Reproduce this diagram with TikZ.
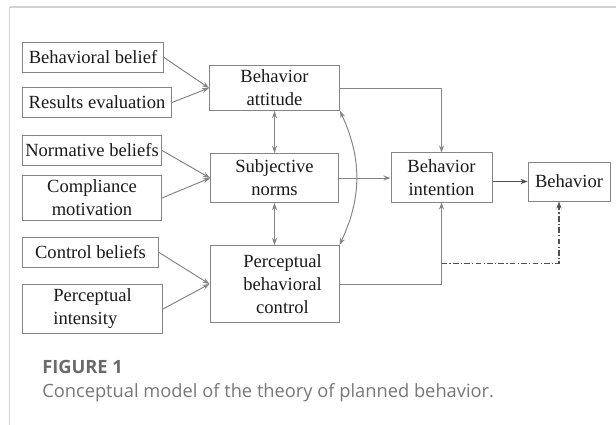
\documentclass[tikz,border=0pt]{standalone}
\usepackage{fontspec}
\setmainfont{Liberation Serif}
\newfontfamily\capfont{Open Sans}
\usepackage{xcolor}
\usetikzlibrary{arrows.meta,positioning,calc}
\definecolor{tpInk}{HTML}{1A1A1A}
\definecolor{tpLine}{HTML}{858585}
\definecolor{tpDark}{HTML}{505050}
\definecolor{tpFrame}{HTML}{D2D2D2}
\definecolor{tpFig}{HTML}{6A6A6A}
\definecolor{tpCap}{HTML}{777777}
\tikzset{
  cbox/.style={rectangle,draw=tpLine,line width=0.7pt,
    inner sep=0pt,align=center,text=tpInk,
    font=\fontsize{13.2}{16.3}\selectfont},
  capbox/.style={anchor=base west,inner sep=0pt,
    font=\capfont\fontsize{13}{15}\selectfont},
  arr/.style={-{Stealth[length=5pt,width=3.6pt]},line width=0.7pt,color=tpLine},
  arrb/.style={{Stealth[length=5pt,width=3.6pt]}-{Stealth[length=5pt,width=3.6pt]},
    line width=0.7pt,color=tpLine},
  arrk/.style={-{Stealth[length=5pt,width=3.8pt]},line width=0.9pt,color=tpDark},
  arrdd/.style={-{Stealth[length=5pt,width=3.6pt]},line width=0.8pt,color=tpDark,
    dash pattern=on 4pt off 1.6pt on 0.9pt off 1.6pt},
}

\begin{document}
\begin{tikzpicture}[x=0.025cm,y=-0.025cm]

  \useasboundingbox (0,0) rectangle (616,425);
  \draw[tpFrame,line width=0.8pt] (9.5,7) -- (616,7);
  \draw[tpFrame,line width=0.8pt] (9.5,7) -- (9.5,425);

  % left column: antecedent beliefs
  \node[cbox,minimum width=3.525cm,minimum height=0.75cm,anchor=north west] (bb)
    at (22,42) {Behavioral belief};
  \node[cbox,minimum width=3.725cm,minimum height=0.75cm,
    below right=0.35cm and 0cm of bb.south west] (re) {Results evaluation};
  \node[cbox,minimum width=3.475cm,minimum height=0.75cm,
    below right=0.425cm and 0cm of re.south west] (nb) {Normative beliefs};
  \node[cbox,minimum width=3.475cm,minimum height=1.125cm,
    below right=0.225cm and 0cm of nb.south west] (cm) {Compliance\\motivation};
  \node[cbox,minimum width=3.4cm,minimum height=0.75cm,
    below right=0.4cm and 0cm of cm.south west] (cb) {Control beliefs};
  \node[cbox,minimum width=3.5cm,minimum height=1.225cm,align=left,
    below right=0.4cm and 0cm of cb.south west] (pi) {Perceptual\\intensity};

  % middle column
  \node[cbox,minimum width=3.25cm,minimum height=1.125cm,anchor=north west] (att)
    at (209,65) {Behavior\\attitude};
  \node[cbox,minimum width=3.2cm,minimum height=1.225cm,below=1.05cm of att] (sn)
    {Subjective\\norms};
  \node[cbox,minimum width=3.225cm,minimum height=1.925cm,below=1.05cm of sn] (pbc)
    {\hspace*{0.4cm}Perceptual\\\hspace*{0.4cm}behavioral\\\hspace*{0.4cm}control};

  % right side
  \node[cbox,minimum width=2.525cm,minimum height=1.225cm] (bi)
    at (441.5,177.5) {Behavior\\intention};
  \node[cbox,minimum width=2.05cm,minimum height=0.975cm,anchor=south west] (beh)
    at ([xshift=0.875cm,yshift=0.025cm]bi.south east) {Behavior};

  \coordinate (split) at ($(bi.south)+(0,61)$);

  \foreach \from/\to in {bb/att,re/att,nb/sn,cm/sn,cb/pbc,pi/pbc}
    \draw[arr] (\from.east) -- (\to.west);

  \draw[arrb] (att.south) -- (att.south |- sn.north);
  \draw[arrb] (sn.south) -- (sn.south |- pbc.north);
  \draw[arrb] (att.south east) to[bend left=25] (pbc.north east);

  \draw[arr] (att.east) -| (bi.north);
  \draw[arr] (sn.east) -- (sn.east -| bi.west);
  \draw[arr] (pbc.east) -| (bi.south);
  \draw[arrk] (beh.west -| bi.east) -- (beh.west);
  \draw[arrdd] (split) -| ([xshift=-0.25cm]beh.south);

  % caption
  \node[capbox,text=tpFig,font=\capfont\bfseries\fontsize{13}{15}\selectfont] (fig)
    at (42,373) {FIGURE 1};
  \node[capbox,text=tpCap] (cap)
    at (42,397) {Conceptual model of the theory of planned behavior.};

\end{tikzpicture}
\end{document}
